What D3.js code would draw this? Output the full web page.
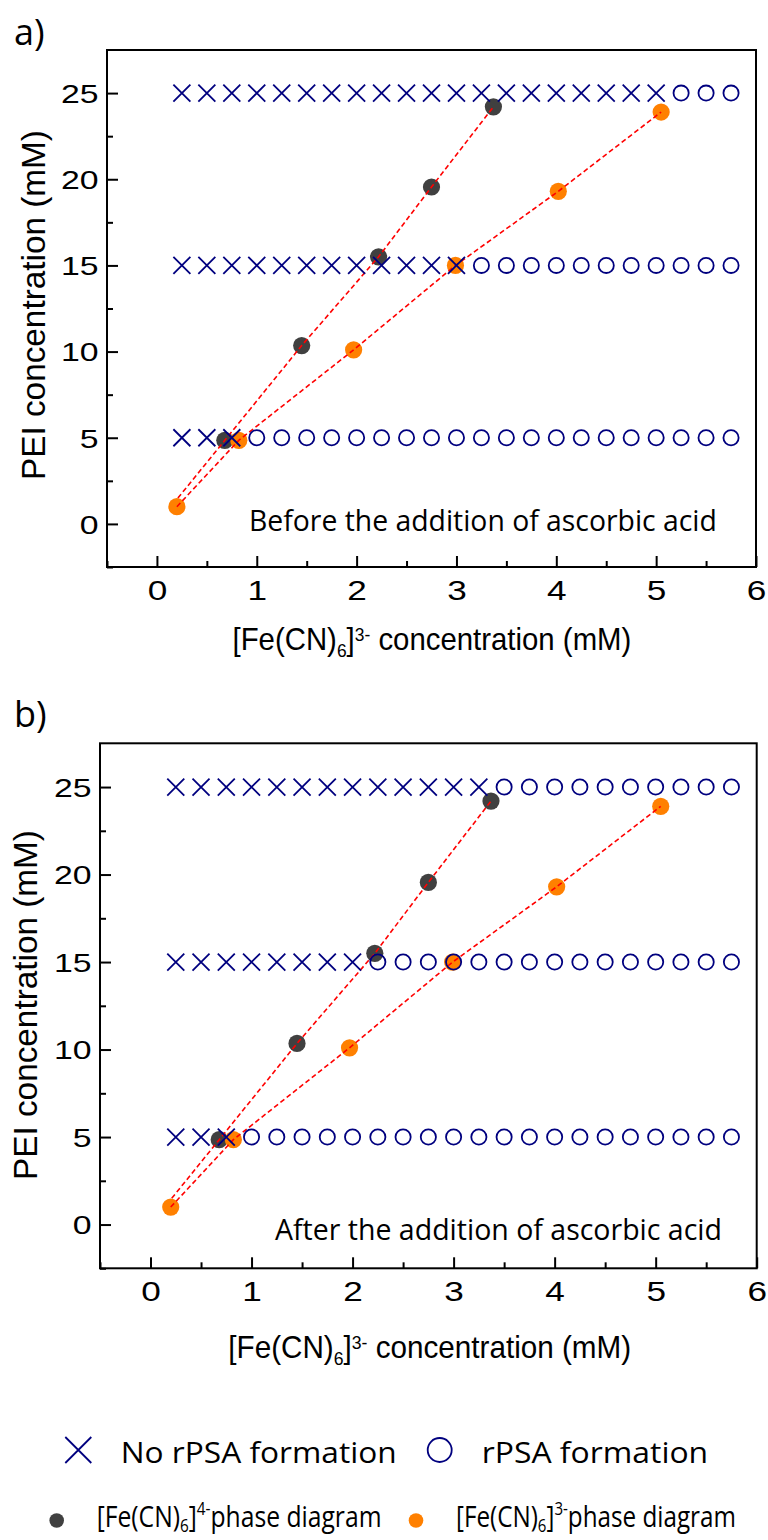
<!DOCTYPE html>
<html><head><meta charset="utf-8">
<script src="https://cdn.jsdelivr.net/npm/d3@7/dist/d3.min.js"></script>
<style>
html,body{margin:0;padding:0;background:#fff;}
svg{display:block;}
</style></head>
<body>
<svg id="chart" width="768" height="1540"></svg>
<script>
// ---------------- data ----------------
const concentrations = [0.25,0.5,0.75,1.0,1.25,1.5,1.75,2.0,2.25,2.5,2.75,3.0,3.25,3.5,3.75,4.0,4.25,4.5,4.75,5.0,5.25,5.5,5.75];
const peiLevels = [25, 15, 5];
// last [Fe(CN)6]3- concentration with no rPSA formation, per PEI level
const noFormationLimitBefore = [5.0, 3.0, 0.75];
const noFormationLimitAfter  = [3.25, 2.0, 0.75];
const fe4Points = [[0.68,4.85],[1.45,10.35],[2.22,15.5],[2.75,19.55],[3.37,24.2]];
const fe3Points = [[0.2,1.0],[0.82,4.85],[1.97,10.1],[2.99,15.0],[4.02,19.3],[5.05,23.9]];
const fe4LineStart = [0.21,1.5];
const xTicks = [0,1,2,3,4,5,6];
const xMinorTicks = [-0.5,0.5,1.5,2.5,3.5,4.5,5.5];
const yTicks = [0,5,10,15,20,25];
const yMinorTicks = [-2.5,2.5,7.5,12.5,17.5,22.5];
const panelLabels = ["a)","b)"];
const annotations = ["Before the addition of ascorbic acid","After the addition of ascorbic acid"];
const yTitle = "PEI concentration (mM)";
const legendMarkerLabels = ["No rPSA formation","rPSA formation"];

// ---------------- style ----------------
const NAVY = "#00007f", GRAY = "#404040", ORANGE = "#ff8000", RED = "#ff0000";
const NUM_FONT = "'Liberation Sans', Arial, sans-serif";
const TXT_FONT = "'Open Sans', 'Noto Sans', sans-serif";

const svg = d3.select("#chart");

function fit(sel, x, y, targetW, rot) {
  const w = sel.node().getBBox().width;
  const s = targetW / w;
  sel.attr("transform", `translate(${x},${y})` + (rot ? ` rotate(${rot})` : "") + ` scale(${s},1)`);
}

const panels = [
  {box:{l:107,r:756,t:50,b:567}, limits:noFormationLimitBefore, label:panelLabels[0], labelPos:[14,45],
   ann:annotations[0], annPos:[249,530.7,468], yT:[45,480,350], xT:[232.5,650,399]},
  {box:{l:100,r:756.7,t:743.3,b:1268.3}, limits:noFormationLimitAfter, label:panelLabels[1], labelPos:[14,727],
   ann:annotations[1], annPos:[275,1240,447], yT:[36.7,1180,350], xT:[228.3,1358,403]}
];

panels.forEach(p => {
  const B = p.box;
  const x = d3.scaleLinear().domain([-0.5,6]).range([B.l,B.r]);
  const y = d3.scaleLinear().domain([-2.5,27.5]).range([B.b,B.t]);
  const g = svg.append("g");

  // minor ticks
  g.append("g").attr("transform",`translate(0,${B.b})`)
    .call(d3.axisBottom(x).tickValues(xMinorTicks).tickSize(-6).tickFormat(""))
    .call(a => a.select(".domain").remove());
  g.append("g").attr("transform",`translate(${B.l},0)`)
    .call(d3.axisLeft(y).tickValues(yMinorTicks).tickSize(-6).tickFormat(""))
    .call(a => a.select(".domain").remove());
  // major ticks
  const xa = g.append("g").attr("transform",`translate(0,${B.b})`)
    .call(d3.axisBottom(x).tickValues(xTicks).tickSize(-11).tickPadding(13).tickFormat(d3.format("d")));
  xa.select(".domain").remove();
  xa.selectAll("text").attr("font-family",NUM_FONT).attr("font-size",27.5).attr("fill","#000")
    .attr("transform","scale(1.28,1)");
  const ya = g.append("g").attr("transform",`translate(${B.l},0)`)
    .call(d3.axisLeft(y).tickValues(yTicks).tickSize(-11).tickFormat(d3.format("d")));
  ya.select(".domain").remove();
  ya.selectAll("text").attr("font-family",NUM_FONT).attr("font-size",26).attr("fill","#000")
    .attr("x", -8.5/1.3).attr("dy","0.36em").attr("transform","scale(1.3,1)");
  g.selectAll(".tick line").attr("stroke","#000").attr("stroke-width",2);

  // frame
  g.append("rect").attr("x",B.l).attr("y",B.t).attr("width",B.r-B.l).attr("height",B.b-B.t)
    .attr("fill","none").attr("stroke","#000").attr("stroke-width",2);

  // filled phase-diagram dots
  g.selectAll(".d4").data(fe4Points).enter().append("circle")
    .attr("cx",d=>x(d[0])).attr("cy",d=>y(d[1])).attr("r",8.6).attr("fill",GRAY);
  g.selectAll(".d3").data(fe3Points).enter().append("circle")
    .attr("cx",d=>x(d[0])).attr("cy",d=>y(d[1])).attr("r",8.6).attr("fill",ORANGE);

  // dashed connecting lines
  const line = d3.line().x(d=>x(d[0])).y(d=>y(d[1]));
  [[fe4LineStart].concat(fe4Points), fe3Points].forEach(pts => {
    g.append("path").attr("d",line(pts)).attr("fill","none").attr("stroke",RED)
      .attr("stroke-width",1.6).attr("stroke-dasharray","5,3");
  });

  // X / O markers
  peiLevels.forEach((lev,i) => {
    concentrations.forEach(c => {
      const cx = x(c), cy = y(lev);
      if (c <= p.limits[i] + 1e-9) {
        const s = 8.5;
        g.append("path").attr("d",`M${cx-s},${cy-s}L${cx+s},${cy+s}M${cx-s},${cy+s}L${cx+s},${cy-s}`)
          .attr("stroke",NAVY).attr("stroke-width",1.8).attr("fill","none");
      } else {
        g.append("circle").attr("cx",cx).attr("cy",cy).attr("r",7.6)
          .attr("fill","none").attr("stroke",NAVY).attr("stroke-width",1.8);
      }
    });
  });

  // annotation
  const an = svg.append("text").attr("font-family",TXT_FONT).attr("font-size",29).attr("fill","#000").text(p.ann);
  fit(an, p.annPos[0], p.annPos[1], p.annPos[2]);

  // panel label
  svg.append("text").attr("x",p.labelPos[0]).attr("y",p.labelPos[1]).attr("font-family",TXT_FONT)
    .attr("font-size",36).attr("fill","#000").text(p.label);

  // y title
  const yt = svg.append("text").attr("font-family",NUM_FONT).attr("font-size",34).attr("fill","#000").text(yTitle);
  fit(yt, p.yT[0], p.yT[1], p.yT[2], -90);

  // x title
  const xt = svg.append("text").attr("font-family",NUM_FONT).attr("font-size",32).attr("fill","#000");
  xt.append("tspan").text("[Fe(CN)");
  xt.append("tspan").attr("font-size",19).attr("dy",7).text("6");
  xt.append("tspan").attr("dy",-7).text("]");
  xt.append("tspan").attr("font-size",19).attr("dy",-9).text("3-");
  xt.append("tspan").attr("dy",9).text(" concentration (mM)");
  fit(xt, p.xT[0], p.xT[1], p.xT[2]);
});

// ---------------- legend ----------------
const lg = svg.append("g");
{
  const cx = 78.3, cy = 1450, s = 13;
  lg.append("path").attr("d",`M${cx-s},${cy-s}L${cx+s},${cy+s}M${cx-s},${cy+s}L${cx+s},${cy-s}`)
    .attr("stroke",NAVY).attr("stroke-width",1.8).attr("fill","none");
  lg.append("circle").attr("cx",439.7).attr("cy",1450).attr("r",12).attr("fill","none")
    .attr("stroke",NAVY).attr("stroke-width",1.8);
  const t1 = lg.append("text").attr("font-family",TXT_FONT).attr("font-size",29).attr("fill","#000").text(legendMarkerLabels[0]);
  fit(t1, 120.7, 1462.7, 276);
  const t2 = lg.append("text").attr("font-family",TXT_FONT).attr("font-size",29).attr("fill","#000").text(legendMarkerLabels[1]);
  fit(t2, 481.7, 1462.7, 226.6);

  lg.append("circle").attr("cx",56.7).attr("cy",1520.5).attr("r",7.3).attr("fill",GRAY);
  lg.append("circle").attr("cx",416).attr("cy",1520.5).attr("r",7.3).attr("fill",ORANGE);
  [["4-",96.7,285],["3-",456,280]].forEach(([ch,x0,w]) => {
    const t = lg.append("text").attr("font-family",TXT_FONT).attr("font-size",29).attr("fill","#000");
    t.append("tspan").text("[Fe(CN)");
    t.append("tspan").attr("font-size",18).attr("dy",5).text("6");
    t.append("tspan").attr("dy",-5).text("]");
    t.append("tspan").attr("font-size",18).attr("dy",-12).text(ch);
    t.append("tspan").attr("dy",12).text("phase diagram");
    fit(t, x0, 1527, w);
  });
}
</script>
</body></html>
